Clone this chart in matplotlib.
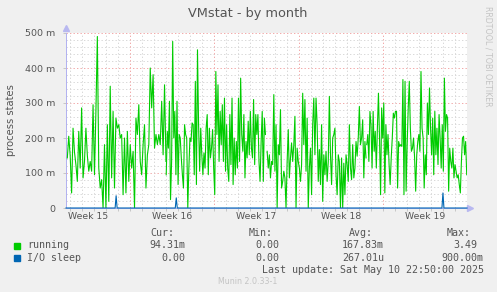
import matplotlib
matplotlib.use("Agg")
import matplotlib.pyplot as plt
import numpy as np

# ---- data (values in milli-units, x in days since graph start) ----
# green series, in four stretches of roughly 100 px
running_part1 = [143, 205, 150, 43, 228, 160, 124, 76, 219, 114, 286, 86, 133, 228, 150,
                 105, 133, 105, 295, 95, 276, 490, 114, 57, 81, 0, 181, 0, 238, 19,
                 348, 86, 276, 57, 257, 228, 238, 200, 210, 38, 200, 43, 219, 76, 181,
                 114, 162, 0, 257, 210, 295, 133, 95, 181, 238, 57, 152, 181, 400, 286,
                 381, 171, 210, 181, 210, 181, 305, 152, 352, 133]
running_part2 = [95, 219, 171, 305, 24, 133, 476, 200, 276, 95, 305, 67, 210, 200, 143,
                 95, 57, 238, 210, 200, 0, 114, 200, 190, 243, 238, 95, 362, 67, 452,
                 238, 105, 228, 152, 95, 157, 114, 228, 267, 95, 228, 143, 171, 224, 114,
                 38, 390, 210, 352, 133, 276, 181, 295, 133, 314, 105, 238, 114, 76, 267,
                 124, 314, 67, 200, 95, 190, 114, 314, 133, 371, 210, 162, 267, 86, 190,
                 143, 248, 152, 276, 171, 143, 310, 124, 267, 210, 267, 133, 76, 190, 276,
                 76, 257, 210]
running_part3 = [162, 114, 152, 86, 133, 124, 324, 105, 238, 0, 181, 152, 281, 57, 76,
                 105, 86, 0, 133, 224, 86, 143, 186, 133, 181, 262, 0, 171, 133, 114,
                 76, 124, 328, 181, 310, 105, 257, 0, 114, 171, 38, 238, 314, 152, 314,
                 238, 76, 167, 67, 238, 19, 152, 95, 162, 76, 133, 319, 152, 67, 200,
                 210, 228, 95, 38, 152, 133, 0, 143, 0, 128, 38, 152, 124, 76, 238,
                 114, 81, 181, 86, 114, 190, 148, 200, 290, 181, 200, 252, 86, 190, 143]
running_part4 = [181, 210, 133, 276, 238, 114, 276, 162, 219, 114, 228, 328, 200, 38, 286,
                 200, 300, 43, 238, 152, 210, 124, 67, 143, 200, 271, 257, 276, 276, 57,
                 190, 176, 181, 176, 367, 38, 362, 48, 181, 286, 362, 228, 162, 171, 200,
                 143, 48, 152, 190, 210, 162, 390, 228, 200, 57, 152, 95, 300, 210, 343,
                 228, 152, 257, 95, 276, 152, 228, 124, 267, 200, 114, 238, 105, 371,
                 219, 267, 257, 48, 171, 133, 114, 171, 86, 124, 105, 86, 95, 67, 43,
                 133, 200, 205, 152, 190, 95]
running_parts = [running_part1, running_part2, running_part3, running_part4]
part_bounds = [(0.11, 8.31), (8.33, 16.58), (16.72, 24.94), (25.0, 33.31)]

# I/O sleep: flat at zero apart from three short spikes
io_spike_days = [4.125, 9.19, 31.33]
io_spike_vals = [35, 29, 43]

span_days = 400 / 12          # 2 h per pixel, 400 pixels
first_monday = 5.333          # first red (week) line
week_labels = ["Week 15", "Week 16", "Week 17", "Week 18", "Week 19"]
y_ticks = [0, 100, 200, 300, 400, 500]
y_ticklabels = ["0", "100 m", "200 m", "300 m", "400 m", "500 m"]

legend_rows = [("running", "#00CC00", "94.31m", "0.00", "167.83m", "3.49"),
               ("I/O sleep", "#0066B3", "0.00", "0.00", "267.01u", "900.00m")]

W, H = 497, 292
TXT = "#555555"


def fx(x):
    return x / W


def fy(y):
    return 1 - y / H


fig = plt.figure(figsize=(W / 100, H / 100), dpi=100, facecolor="#F0F0F0")
ax = fig.add_axes([fx(66), fy(208), 401 / W, 175 / H], facecolor="white")

ax.set_xlim(0, span_days)
ax.set_ylim(0, 500)

# grid
dot = (0, (1.4, 2.2))
for v in range(20, 500, 20):
    if v % 100:
        ax.axhline(v, color="#D8D8D8", lw=0.7, ls=dot, zorder=1)
for v in range(100, 501, 100):
    ax.axhline(v, color="#F2A8A8", lw=0.7, ls=dot, zorder=1, clip_on=False)
days = np.arange(first_monday - 5, span_days, 1.0)
weeks = np.arange(first_monday, span_days, 7.0)
for d in days:
    if not np.any(np.isclose(d, weeks)):
        ax.axvline(d, color="#D8D8D8", lw=0.7, ls=dot, zorder=1)
for d in weeks:
    ax.axvline(d, color="#F2A8A8", lw=0.7, ls=dot, zorder=1)

# series
for vals, (a, b) in zip(running_parts, part_bounds):
    ax.plot(np.linspace(a, b, len(vals)), vals, color="#00CC00", lw=0.8, zorder=3)

t = np.arange(0, span_days, 1 / 12)
io = np.zeros_like(t)
for d, v in zip(io_spike_days, io_spike_vals):
    io[np.argmin(np.abs(t - d))] = v
ax.plot(t, io, color="#0066B3", lw=0.8, zorder=4, clip_on=False)

# axes
for s in ["top", "right"]:
    ax.spines[s].set_visible(False)
ax.spines["left"].set_color("#B0B0F0")
ax.spines["bottom"].set_color("#B0B0F0")
ax.spines["left"].set_linewidth(0.7)
ax.spines["bottom"].set_linewidth(0.7)
ax.plot([0], [1.03], marker="^", ms=4, color="#B8B8F0", transform=ax.transAxes, clip_on=False)
ax.plot([1.008], [0], marker=">", ms=4, color="#B8B8F0", transform=ax.transAxes, clip_on=False)

ax.set_yticks(y_ticks)
ax.set_yticklabels(y_ticklabels, fontsize=6.8, color=TXT)
ax.tick_params(axis="y", length=2, width=0.6, color="#C0C0C0", pad=6)
ax.set_xticks(weeks)
ax.set_xticklabels([])
ax.set_xticks(days, minor=True)
ax.tick_params(axis="x", which="both", length=2, width=0.6, color="#C0C0C0")
ax.tick_params(axis="y", which="minor", length=0)

for i, lab in enumerate(week_labels):
    ax.text(first_monday - 3.5 + 7 * i, -0.05, lab, transform=ax.get_xaxis_transform(),
            ha="center", va="center", fontsize=6.7, color=TXT)

fig.text(fx(248), fy(13), "VMstat - by month", ha="center", va="center",
         fontsize=9.3, color=TXT)
fig.text(fx(11), fy(120), "process states", rotation=90, ha="center", va="center",
         fontsize=7.2, color=TXT)
fig.text(fx(488), fy(56), "RRDTOOL / TOBI OETIKER", rotation=270, ha="center",
         va="center", fontsize=5.7, color="#C4C4C4")

# legend
mono = dict(family="DejaVu Sans Mono", fontsize=7.2, color=TXT, va="center")
for x, lab in [(150, "Cur:"), (249, "Min:"), (349, "Avg:"), (447, "Max:")]:
    fig.text(fx(x), fy(233.5), lab, ha="left", **mono)
for i, (name, col, cur, mn, avg, mx) in enumerate(legend_rows):
    y = 245.5 + 12.5 * i
    fig.patches.append(plt.Rectangle((fx(14), fy(y + 3)), 6 / W, 6 / H,
                                     transform=fig.transFigure, color=col))
    fig.text(fx(27), fy(y), name, ha="left", **mono)
    fig.text(fx(185), fy(y), cur, ha="right", **mono)
    fig.text(fx(279), fy(y), mn, ha="right", **mono)
    fig.text(fx(384), fy(y), avg, ha="right", **mono)
    fig.text(fx(483) - (0.0 if mx.endswith("m") else 6 / W), fy(y), mx, ha="right", **mono)

fig.text(fx(261.5), fy(270), "Last update: Sat May 10 22:50:00 2025", ha="left", **mono)
fig.text(fx(248), fy(281.5), "Munin 2.0.33-1", ha="center", va="center",
         fontsize=5.7, color="#C4C4C4")

fig.savefig("out.png", dpi=100, facecolor=fig.get_facecolor())
